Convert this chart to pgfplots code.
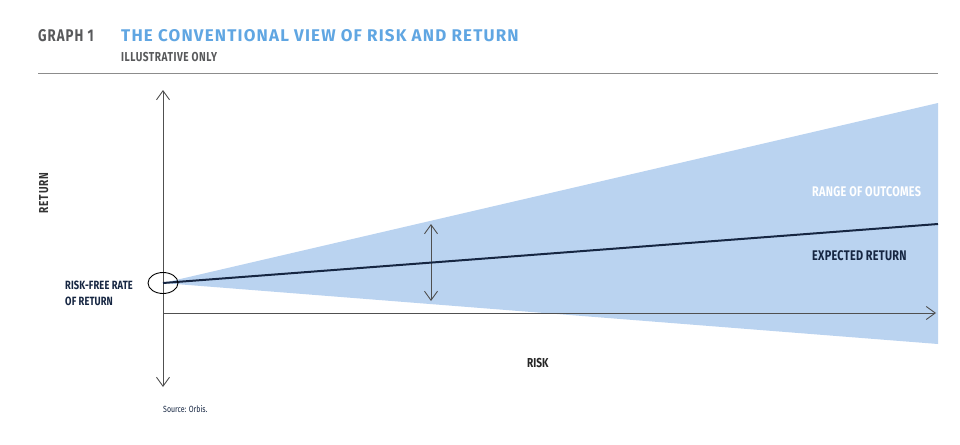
\documentclass[border=0pt]{standalone}
\usepackage{fontspec}
\setmainfont{Fira Sans}
\newfontfamily\cond[FakeStretch=0.78]{Fira Sans}
\newfontfamily\wide{Fira Sans}
\usepackage{pgfplots}
\pgfplotsset{compat=1.18}
\usetikzlibrary{arrows.meta}
\definecolor{fanblue}{RGB}{186,211,240}
\definecolor{titleblue}{RGB}{96,166,226}
\definecolor{navy}{RGB}{22,38,66}
\definecolor{greytxt}{RGB}{88,89,91}
\definecolor{axisgrey}{RGB}{80,80,80}
\begin{document}
\begin{tikzpicture}
\begin{axis}[
  scale only axis, width=960bp, height=444bp,
  xmin=0, xmax=960, ymin=0, ymax=444, y dir=reverse,
  hide axis, clip=false,
]
\path (axis cs:0,0) rectangle (axis cs:960,444);
% fan of outcomes
\addplot[fill=fanblue, draw=none] coordinates {(163,283) (938,103) (938,344)} -- cycle;
% header rule
\addplot[color=black!45, line width=0.9bp] coordinates {(38,73) (938,73)};
% axes
\addplot[color=axisgrey, line width=0.9bp, {Straight Barb[length=9bp,width=13bp]}-{Straight Barb[length=9bp,width=13bp]}] coordinates {(163,387) (163,90)};
\addplot[color=axisgrey, line width=0.9bp, -{Straight Barb[length=9bp,width=13bp]}] coordinates {(163,313) (936,313)};
% range arrow
\addplot[color=axisgrey, line width=0.9bp, {Straight Barb[length=9bp,width=13bp]}-{Straight Barb[length=9bp,width=13bp]}] coordinates {(431,301) (431,224)};
% expected return
\addplot[color=navy, line width=2bp] coordinates {(163,283) (938,224)};
\draw[black, line width=0.9bp] (axis cs:163,283) ellipse [x radius=15bp, y radius=10.5bp];
% texts
\node[anchor=base west, inner sep=0pt, text=greytxt, font=\cond\bfseries\addfontfeatures{LetterSpace=6}\fontsize{17}{20}\selectfont] at (axis cs:38,42) {GRAPH 1};
\node[anchor=base west, inner sep=0pt, text=titleblue, font=\wide\bfseries\addfontfeatures{LetterSpace=7}\fontsize{17}{20}\selectfont] at (axis cs:121,42) {THE CONVENTIONAL VIEW OF RISK AND RETURN};
\node[anchor=base west, inner sep=0pt, text=greytxt, font=\cond\bfseries\addfontfeatures{LetterSpace=4}\fontsize{13}{15}\selectfont] at (axis cs:121,62) {ILLUSTRATIVE ONLY};
\node[anchor=base, inner sep=0pt, rotate=90, text=black!80, font=\cond\bfseries\addfontfeatures{LetterSpace=6}\fontsize{13}{15}\selectfont] at (axis cs:48,193) {RETURN};
\node[anchor=base west, inner sep=0pt, text=navy, font=\cond\bfseries\addfontfeatures{LetterSpace=1}\fontsize{12}{14}\selectfont] at (axis cs:65,289) {RISK-FREE RATE};
\node[anchor=base west, inner sep=0pt, text=navy, font=\cond\bfseries\addfontfeatures{LetterSpace=1}\fontsize{12}{14}\selectfont] at (axis cs:65,305) {OF RETURN};
\node[anchor=base west, inner sep=0pt, text=black!85, font=\cond\bfseries\fontsize{13}{15}\selectfont] at (axis cs:527,367) {RISK};
\node[anchor=base west, inner sep=0pt, text=white, font=\cond\bfseries\addfontfeatures{LetterSpace=2}\fontsize{14}{16}\selectfont] at (axis cs:812,196) {RANGE OF OUTCOMES};
\node[anchor=base west, inner sep=0pt, text=navy, font=\cond\bfseries\addfontfeatures{LetterSpace=2}\fontsize{14}{16}\selectfont] at (axis cs:812,260) {EXPECTED RETURN};
\node[anchor=base west, inner sep=0pt, text=navy, font=\cond\fontsize{9}{11}\selectfont] at (axis cs:163,412) {Source: Orbis.};
\end{axis}
\end{tikzpicture}
\end{document}
